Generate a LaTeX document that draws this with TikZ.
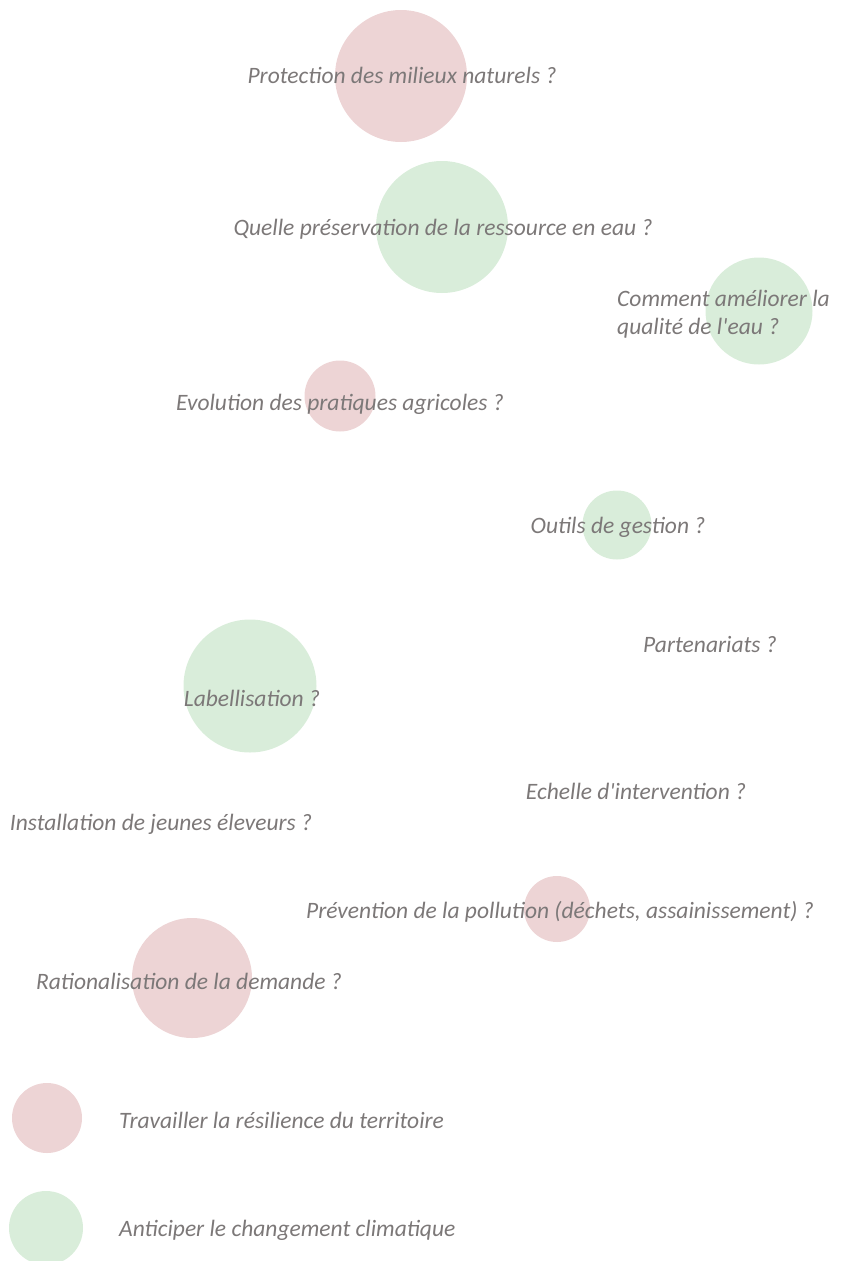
\documentclass[tikz,border=0pt]{standalone}
\usepackage{fontspec}
\setmainfont{Carlito}
\definecolor{pinkc}{HTML}{EDD4D5}
\definecolor{greenc}{HTML}{D9EDDA}
\definecolor{txt}{HTML}{7C7878}
\begin{document}
\begin{tikzpicture}[x=1pt,y=-1pt,
  bub/.style={circle,draw=none,inner sep=0pt,minimum size=#1},
  pinkbub/.style={bub=#1,fill=pinkc},
  greenbub/.style={bub=#1,fill=greenc},
  lab/.style={font=\fontsize{23.5}{28}\selectfont\itshape,text=txt,inner sep=0pt,anchor=center},
  leftlab/.style={lab,anchor=west,align=left}]
\useasboundingbox (0,0) rectangle (849,1261);
\node[pinkbub=132] (c1) at (401,76) {};
\node[lab] (t1) at (402,75) {Protection des milieux naturels ?};
\node[greenbub=132] (c2) at (442,227) {};
\node[lab] (t2) at (443,229) {Quelle préservation de la ressource en eau ?};
\node[greenbub=107] (c3) at (759,311) {};
\node[leftlab] (t3) at (617,314) {Comment améliorer la\\qualité de l\textquotesingle eau ?};
\node[pinkbub=71] (c4) at (340,396) {};
\node[lab] (t4) at (340,404) {Evolution des pratiques agricoles ?};
\node[greenbub=69] (c5) at (617,525) {};
\node[lab] (t5) at (618,527) {Outils de gestion ?};
\node[lab] (t6) at (710,644) {Partenariats ?};
\node[greenbub=133] (c7) at (250,686) {};
\node[lab] (t7) at (252,698) {Labellisation ?};
\node[lab] (t8) at (636,791) {Echelle d\textquotesingle intervention ?};
\node[lab] (t9) at (161,824) {Installation de jeunes éleveurs ?};
\node[pinkbub=66] (c10) at (557,909) {};
\node[lab] (t10) at (560,912) {Prévention de la pollution (déchets, assainissement) ?};
\node[pinkbub=120] (c11) at (192,978) {};
\node[lab] (t11) at (189,981) {Rationalisation de la demande ?};
\node[pinkbub=70] (l1) at (47,1118) {};
\node[leftlab] (lt1) at (119,1120) {Travailler la résilience du territoire};
\node[greenbub=74] (l2) at (46,1228) {};
\node[leftlab] (lt2) at (119,1230) {Anticiper le changement climatique};
\end{tikzpicture}
\end{document}
